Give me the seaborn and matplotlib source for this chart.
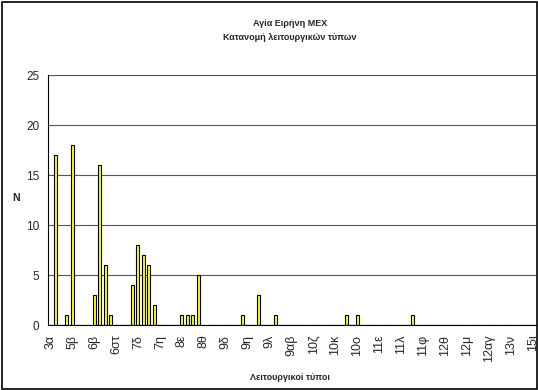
import matplotlib
matplotlib.use("Agg")
import matplotlib.pyplot as plt
import matplotlib.patches as mpatches
import seaborn as sns
import pandas as pd
import numpy as np

# Data
n_categories = 89
tick_labels = ["3α", "5β", "6β", "6στ", "7δ", "7η", "8ε", "8θ", "9δ", "9η", "9λ", "9αβ",
               "10ζ", "10κ", "10ο", "11ε", "11λ", "11φ", "12θ", "12μ", "12αγ", "13ν", "15ι"]
bar_positions = [1, 3, 4, 8, 9, 10, 11, 15, 16, 17, 18, 19, 24, 25, 26, 27, 35, 38, 41, 54, 56, 66]
bar_values = [17, 1, 18, 3, 16, 6, 1, 4, 8, 7, 6, 2, 1, 1, 1, 5, 1, 3, 1, 1, 1, 1]

counts = np.zeros(n_categories)
for p, v in zip(bar_positions, bar_values):
    counts[p] = v
df = pd.DataFrame({"cat": np.arange(n_categories), "N": counts})

sns.set_theme(style="white")
plt.rcParams["font.family"] = ["Liberation Sans", "DejaVu Sans"]

fig = plt.figure(figsize=(5.38, 3.90), dpi=100)
ax = fig.add_axes([47.5 / 538, 1 - 325 / 390, (535.5 - 47.5) / 538, 250 / 390])

sns.barplot(data=df, x="cat", y="N", order=list(range(n_categories)), color="#FFFF00",
            saturation=1, edgecolor="black", linewidth=0.8, width=0.55, ax=ax)

ax.set_xlim(-0.5, n_categories - 0.5)
ax.set_ylim(0, 25)
ax.set_yticks([0, 5, 10, 15, 20, 25])
ax.yaxis.grid(True, color="#555555", linewidth=0.8)
ax.set_axisbelow(True)

ax.set_xticks(list(range(0, n_categories, 4)))
ax.set_xticklabels(tick_labels, rotation=90, fontsize=9)
ax.set_xticks(np.arange(-0.5, n_categories, 1.0), minor=True)
ax.tick_params(axis="x", which="major", length=0, pad=7)
ax.tick_params(axis="x", which="minor", length=4, width=0.7, color="black", direction="out")
ax.tick_params(axis="y", which="major", length=6, width=0.7, color="black", direction="inout",
               labelsize=8.5, pad=3)

for s in ["top", "right"]:
    ax.spines[s].set_visible(False)
for s in ["left", "bottom"]:
    ax.spines[s].set_color("black")
    ax.spines[s].set_linewidth(0.8)

ax.set_xlabel("")
ax.set_ylabel("")

fig.text(290 / 538, 1 - 24 / 390, "Αγία Ειρήνη ΜΕΧ", ha="center", va="center",
         fontsize=6.5, fontweight="bold")
fig.text(290 / 538, 1 - 38 / 390, "Κατανομή λειτουργικών τύπων", ha="center", va="center",
         fontsize=6.5, fontweight="bold")
fig.text(290 / 538, 1 - 377 / 390, "Λειτουργικοί τύποι", ha="center", va="center",
         fontsize=6.5, fontweight="bold")
fig.text(16 / 538, 1 - 198 / 390, "N", ha="center", va="center",
         fontsize=7.5, fontweight="bold")

fig.patches.append(mpatches.Rectangle((1.5 / 538, 1.5 / 390), 535 / 538, 387 / 390,
                                      transform=fig.transFigure, fill=False,
                                      edgecolor="black", linewidth=1.2))

fig.savefig("out.png", dpi=100)
